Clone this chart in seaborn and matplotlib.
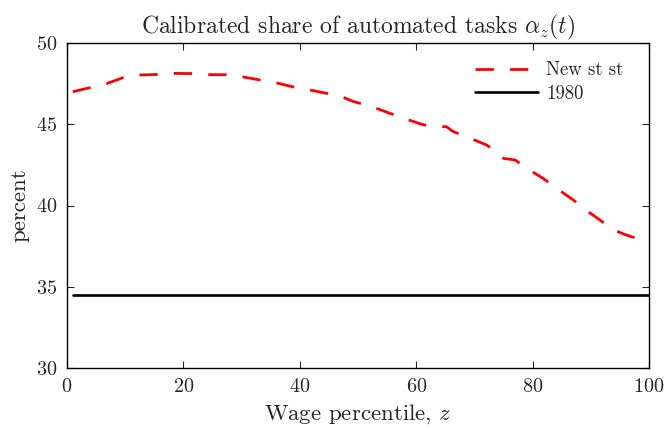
import matplotlib
matplotlib.use("Agg")
import matplotlib.pyplot as plt
import seaborn as sns
import pandas as pd

# Data
pct_new = [1, 4.5, 6.8, 10.3, 12.5, 16, 18.2, 21.7, 24, 27.4, 29.7, 33.2, 35.4, 38.8, 41.2,
           44.6, 46.9, 49.2, 52.4, 55.5, 57.8, 61.2, 63.8, 65.2, 66.4, 68.7, 72.1, 74.1,
           75, 77, 79, 81.8, 84.1, 87, 88.7, 91.6, 93.9, 95.6, 100]
share_new = [47.0, 47.3, 47.5, 47.95, 48.03, 48.07, 48.13, 48.12, 48.05, 48.05, 47.95, 47.72,
             47.6, 47.3, 47.15, 46.9, 46.74, 46.4, 46.08, 45.67, 45.37, 44.97, 44.85, 44.85,
             44.54, 44.23, 43.72, 43.21, 42.9, 42.8, 42.29, 41.67, 41.06, 40.34, 39.83,
             39.1, 38.5, 38.25, 37.72]
pct_1980 = [1, 100]
share_1980 = [34.5, 34.5]

x_ticks = [0, 20, 40, 60, 80, 100]
y_ticks = [30, 35, 40, 45, 50]

sns.set_style("ticks")
plt.rcParams["font.family"] = ["serif"]
plt.rcParams["font.serif"] = ["cmr10", "DejaVu Serif"]
plt.rcParams["mathtext.fontset"] = "cm"
plt.rcParams["axes.formatter.use_mathtext"] = True

fig = plt.figure(figsize=(6.68, 4.28), dpi=100)
ax = fig.add_axes([67/668, 60/428, (649-67)/668, (368-43)/428])

df_new = pd.DataFrame({"z": pct_new, "share": share_new})
df_80 = pd.DataFrame({"z": pct_1980, "share": share_1980})

sns.lineplot(data=df_new, x="z", y="share", ax=ax, color="red", linewidth=2.0,
             linestyle=(0, (6.6, 5.8)), label="New st st")
sns.lineplot(data=df_80, x="z", y="share", ax=ax, color="black", linewidth=1.9,
             label="1980")

ax.set_xlim(0, 100)
ax.set_ylim(30, 50)
ax.set_xticks(x_ticks)
ax.set_yticks(y_ticks)
ax.tick_params(direction="in", top=True, right=True, labelsize=14.5, length=5,
               width=0.8, pad=7)
for s in ax.spines.values():
    s.set_linewidth(1.0)
    s.set_color("black")

ax.set_title(r"Calibrated share of automated tasks $\alpha_z(t)$", fontsize=17, pad=7)
ax.set_xlabel(r"Wage percentile, $z$", fontsize=16.5, labelpad=5)
ax.set_ylabel("percent", fontsize=16.5, labelpad=5)

leg = ax.legend(loc="upper right", bbox_to_anchor=(631/668, 1 - 54/428),
                bbox_transform=fig.transFigure, frameon=False, fontsize=13.5,
                handlelength=3.36, handletextpad=0.43, borderaxespad=0, borderpad=0.4,
                labelspacing=0.28)

fig.savefig("out.png", dpi=100)
